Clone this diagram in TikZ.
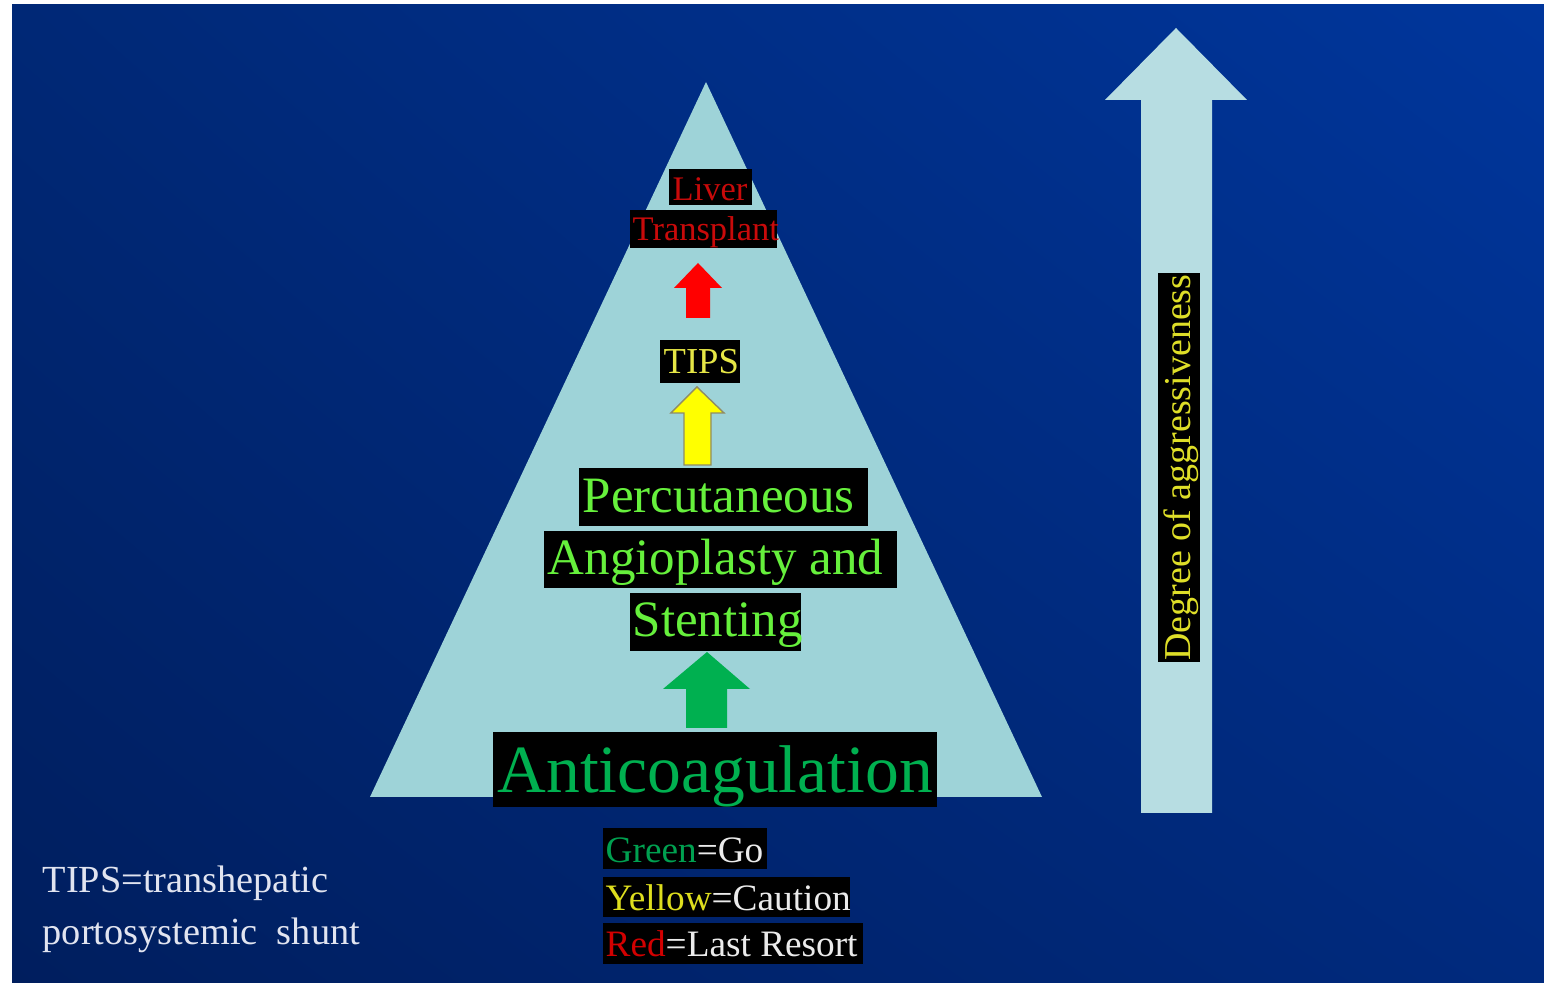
\documentclass[tikz,border=0pt]{standalone}
\usepackage{fontspec}
\setmainfont{Liberation Serif}
\usetikzlibrary{shadings}
\definecolor{bgUL}{RGB}{0,40,118}
\definecolor{bgUR}{RGB}{0,54,156}
\definecolor{bgLL}{RGB}{0,30,94}
\definecolor{bgLR}{RGB}{0,42,126}
\definecolor{tri}{RGB}{158,211,216}
\definecolor{bigarr}{RGB}{183,221,226}
\definecolor{antigreen}{RGB}{0,176,80}
\definecolor{lime}{RGB}{102,240,60}
\definecolor{livred}{RGB}{200,10,10}
\definecolor{tipsyel}{RGB}{230,230,70}
\definecolor{degyel}{RGB}{222,222,40}
\definecolor{arrgreen}{RGB}{0,176,80}
\definecolor{arryel}{RGB}{255,255,0}
\definecolor{arrred}{RGB}{255,0,0}
\definecolor{leggreen}{RGB}{0,160,80}
\definecolor{legyel}{RGB}{222,222,30}
\definecolor{legred}{RGB}{210,0,0}
\definecolor{legwhite}{RGB}{235,235,235}
\definecolor{fnwhite}{RGB}{225,228,240}
\begin{document}
\begin{tikzpicture}[x=0.01cm,y=-0.01cm,
  blackbox/.style n args={2}{fill=black, draw=none, inner sep=0pt, minimum width=#1, minimum height=#2},
  txt/.style={inner sep=0pt, anchor=base west},
  anti/.style={txt, text=antigreen, font=\fontsize{19.2}{23}\selectfont},
  mid/.style={txt, text=lime, font=\fontsize{14.5}{17}\selectfont},
  top/.style={txt, text=livred, font=\fontsize{9.8}{12}\selectfont},
  tipsf/.style={txt, text=tipsyel, font=\fontsize{10.4}{12}\selectfont},
  leg/.style={txt, text=legwhite, font=\fontsize{10.6}{13}\selectfont},
  fn/.style={txt, text=fnwhite, font=\fontsize{10.9}{13}\selectfont}
]
\useasboundingbox (0,0) rectangle (1544,983);
% background
\fill[white] (0,0) rectangle (1544,983);
\shade[upper left=bgUL, upper right=bgUR, lower left=bgLL, lower right=bgLR] (12,5) rectangle (1544,983);

% pyramid
\fill[tri] (706,82) -- (1042,797) -- (370,797) -- cycle;

% big arrow
\fill[bigarr] (1176,28) -- (1247,100) -- (1212,100) -- (1212,813) -- (1141,813) -- (1141,100) -- (1105,100) -- cycle;

% small block arrows
\fill[arrred] (698,263) -- (722,288) -- (710,288) -- (710,318) -- (686,318) -- (686,288) -- (674,288) -- cycle;
\filldraw[fill=arryel, draw=gray!70!olive, line width=0.4pt] (697,387) -- (724,413) -- (711,413) -- (711,465) -- (684,465) -- (684,413) -- (671,413) -- cycle;
\fill[arrgreen] (707,652) -- (750,689) -- (727,689) -- (727,728) -- (686,728) -- (686,689) -- (663,689) -- cycle;

% boxes
\node[blackbox={0.83cm}{0.36cm}] (bLiver) at (710.5,187) {};
\node[blackbox={1.47cm}{0.38cm}] (bTrans) at (703.5,229) {};
\node[blackbox={0.80cm}{0.43cm}] (bTips) at (700,361.5) {};
\node[blackbox={2.89cm}{0.58cm}] (bPerc) at (723.5,497) {};
\node[blackbox={3.53cm}{0.57cm}] (bAngio) at (720.5,559.5) {};
\node[blackbox={1.71cm}{0.58cm}] (bStent) at (715.5,622) {};
\node[blackbox={4.44cm}{0.75cm}] (bAnti) at (715,769.5) {};
\node[blackbox={1.64cm}{0.41cm}] (bLeg1) at (685,848.5) {};
\node[blackbox={2.47cm}{0.40cm}] (bLeg2) at (726.5,897) {};
\node[blackbox={2.60cm}{0.41cm}] (bLeg3) at (733,943.5) {};
\node[blackbox={0.42cm}{3.89cm}] (bDeg) at (1179,467.5) {};

% texts
\node[top] (tLiver) at (672,201) {Liver};
\node[top] (tTrans) at (632,241) {Transplant};
\node[tipsf] (tTips) at (663,374) {TIPS};
\node[mid] (tPerc) at (582,513) {Percutaneous};
\node[mid] (tAngio) at (547,575) {Angioplasty and};
\node[mid] (tStent) at (632,637) {Stenting};
\node[anti] (tAnti) at (497,793) {Anticoagulation};
\node[leg] (tLeg1) at (605,863) {\textcolor{leggreen}{Green}=Go};
\node[leg] (tLeg2) at (605,911) {\textcolor{legyel}{Yellow}=Caution};
\node[leg] (tLeg3) at (605,957) {\textcolor{legred}{Red}=Last Resort};
\node[inner sep=0pt, anchor=base, rotate=90, text=degyel, font=\fontsize{10.8}{13}\selectfont] (tDeg) at (1190,467.5) {Degree of aggressiveness};
\node[fn] (fn1) at (42,893) {TIPS=transhepatic};
\node[fn] (fn2) at (42,945) {portosystemic\hspace{0.5em}shunt};
\end{tikzpicture}
\end{document}
